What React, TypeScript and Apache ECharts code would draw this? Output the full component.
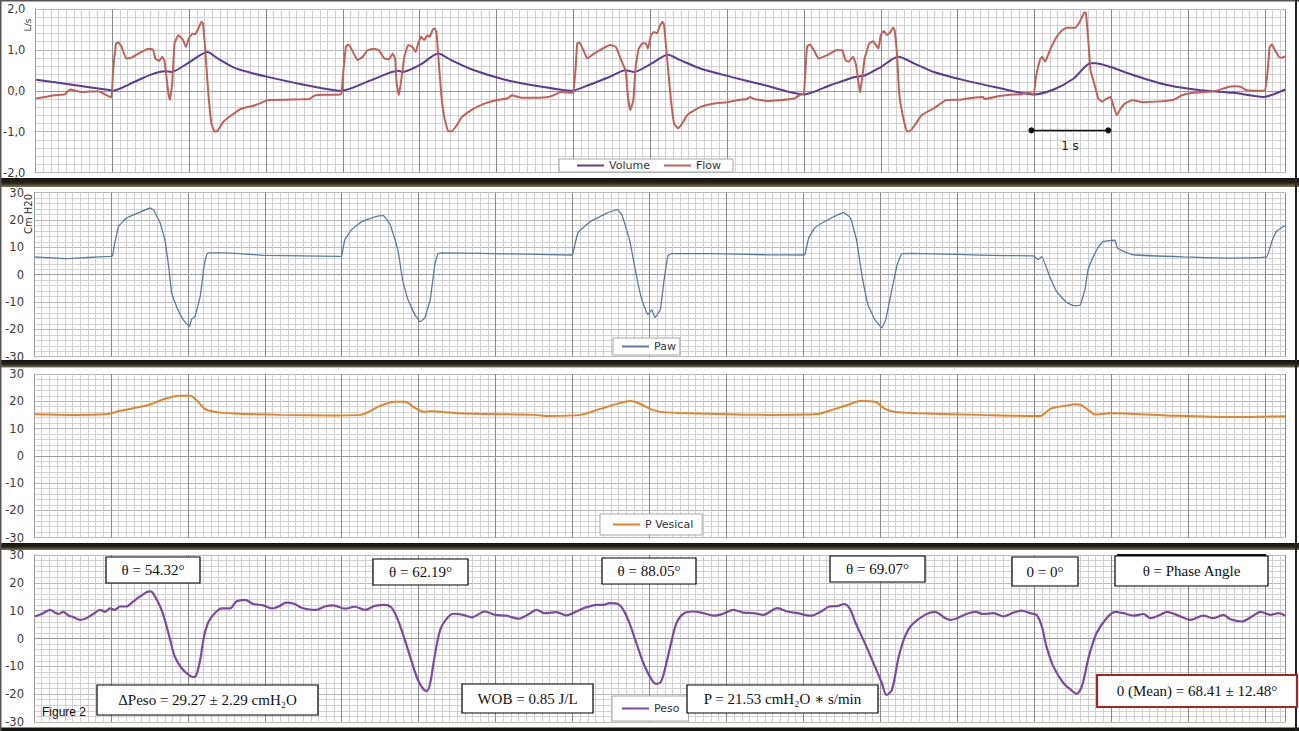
import React, { useEffect, useRef } from 'react';
import * as echarts from 'echarts';

// time in seconds
const volume: [number, number][] = [
  [0.01, 0.27], [0.5, 0.14], [0.99, 0.01], [1.0, 0.0], [1.29, 0.22], [1.51, 0.4], [1.68, 0.48], [1.77, 0.46], [1.98, 0.67], [2.24, 0.95],
  [2.37, 0.79], [2.59, 0.56], [2.8, 0.44], [3.02, 0.34], [3.46, 0.16], [3.83, 0.03], [3.98, 0.0], [4.37, 0.26], [4.72, 0.49], [4.78, 0.46],
  [5.02, 0.65], [5.24, 0.91], [5.41, 0.75], [5.68, 0.52], [6.11, 0.27], [6.55, 0.11], [6.98, 0.0], [7.2, 0.14], [7.46, 0.33], [7.68, 0.5],
  [7.79, 0.46], [8.02, 0.67], [8.23, 0.88], [8.39, 0.75], [8.66, 0.54], [9.05, 0.34], [9.48, 0.14], [10.0, -0.09], [10.35, 0.14], [10.65, 0.33],
  [10.8, 0.38], [11.0, 0.58], [11.23, 0.83], [11.43, 0.67], [11.69, 0.46], [12.08, 0.26], [12.51, 0.08], [12.99, -0.09], [13.25, 0.03], [13.51, 0.3],
  [13.73, 0.67], [13.79, 0.67], [13.99, 0.58], [14.29, 0.38], [14.73, 0.14], [15.16, 0.01], [15.59, -0.05], [15.98, -0.15], [16.26, 0.03],
];

const flow: [number, number][] = [
  [0.01, -0.19], [0.25, -0.11], [0.38, -0.09], [0.45, 0.03], [0.6, -0.03], [0.82, -0.01], [0.95, -0.13], [0.99, -0.16], [1.01, 0.46], [1.05, 1.16],
  [1.08, 1.18], [1.12, 1.08], [1.18, 0.79], [1.25, 0.81], [1.34, 0.91], [1.47, 1.03], [1.53, 1.01], [1.56, 0.79], [1.61, 0.73], [1.65, 0.83],
  [1.68, 0.73], [1.73, -0.07], [1.75, -0.22], [1.78, 0.18], [1.81, 1.16], [1.86, 1.36], [1.92, 1.24], [1.96, 1.07], [2.0, 1.3], [2.05, 1.4],
  [2.08, 1.38], [2.11, 1.48], [2.16, 1.69], [2.18, 1.65], [2.21, 0.99], [2.25, -0.07], [2.29, -0.8], [2.33, -1.0], [2.37, -0.98], [2.44, -0.77],
  [2.55, -0.6], [2.68, -0.44], [2.85, -0.36], [2.96, -0.28], [3.02, -0.23], [3.24, -0.22], [3.46, -0.21], [3.57, -0.2], [3.63, -0.12], [3.76, -0.1],
  [3.89, -0.1], [3.98, -0.08],
  [4.0, 0.34], [4.04, 1.08], [4.07, 1.13], [4.11, 1.03], [4.19, 0.75], [4.26, 0.83], [4.32, 0.99], [4.41, 1.03], [4.47, 0.99], [4.54, 0.79],
  [4.6, 0.77], [4.65, 0.91], [4.68, 0.79], [4.7, 0.18], [4.73, -0.11], [4.76, 0.26], [4.8, 0.83], [4.85, 1.12], [4.9, 1.08], [4.95, 0.95],
  [4.98, 1.16], [5.02, 1.32], [5.06, 1.24], [5.1, 1.36], [5.13, 1.32], [5.17, 1.5], [5.2, 1.52], [5.22, 1.4], [5.24, 0.91], [5.28, -0.07],
  [5.32, -0.64], [5.37, -0.99], [5.42, -0.99], [5.48, -0.85], [5.55, -0.64], [5.68, -0.46], [5.85, -0.31], [6.0, -0.23], [6.14, -0.19], [6.2, -0.11],
  [6.33, -0.17], [6.55, -0.17], [6.68, -0.15], [6.77, -0.09], [6.83, -0.03], [6.96, -0.05], [7.0, -0.05],
  [7.03, 0.58], [7.05, 1.16], [7.08, 1.18], [7.13, 0.99], [7.18, 0.79], [7.24, 0.87], [7.35, 1.0], [7.48, 1.12], [7.55, 1.08], [7.59, 0.91],
  [7.63, 0.71], [7.68, 0.5], [7.71, -0.15], [7.74, -0.48], [7.78, -0.23], [7.81, 0.58], [7.85, 1.03], [7.9, 1.16], [7.94, 1.16], [7.97, 1.03],
  [8.01, 1.36], [8.05, 1.44], [8.09, 1.4], [8.12, 1.57], [8.16, 1.69], [8.18, 1.61], [8.23, 0.58], [8.27, -0.23], [8.31, -0.8], [8.36, -0.92],
  [8.4, -0.85], [8.48, -0.6], [8.57, -0.48], [8.68, -0.38], [8.83, -0.31], [9.0, -0.28], [9.17, -0.22], [9.26, -0.2], [9.3, -0.15], [9.35, -0.2],
  [9.52, -0.25], [9.69, -0.23], [9.87, -0.19], [9.96, -0.09], [10.0, -0.07],
  [10.04, 1.08], [10.08, 1.13], [10.13, 0.99], [10.19, 0.79], [10.3, 0.87], [10.43, 1.0], [10.5, 0.99], [10.54, 0.75], [10.58, 0.71], [10.64, 0.83],
  [10.68, 0.62], [10.7, 0.34], [10.73, -0.05], [10.76, 0.34], [10.79, 0.79], [10.85, 1.16], [10.9, 1.21], [10.97, 1.03], [11.0, 1.36], [11.04, 1.46],
  [11.08, 1.36], [11.12, 1.42], [11.16, 1.55], [11.18, 1.48], [11.21, 0.91], [11.24, -0.07], [11.29, -0.64], [11.34, -0.99], [11.38, -0.99], [11.44, -0.85],
  [11.53, -0.6], [11.68, -0.44], [11.85, -0.23], [12.03, -0.22], [12.2, -0.17], [12.33, -0.15], [12.35, -0.2], [12.54, -0.13], [12.72, -0.09], [12.82, -0.09],
  [12.9, -0.05], [12.97, -0.07], [12.99, -0.11],
  [13.02, 0.34], [13.07, 0.75], [13.1, 0.83], [13.14, 0.71], [13.2, 0.99], [13.29, 1.32], [13.36, 1.48], [13.42, 1.54], [13.53, 1.54], [13.59, 1.69],
  [13.65, 1.92], [13.67, 1.9], [13.7, 1.24], [13.73, 0.5], [13.79, 0.09], [13.83, -0.19], [13.88, -0.27], [13.94, -0.19], [13.99, -0.15], [14.03, -0.38],
  [14.07, -0.6], [14.12, -0.44], [14.18, -0.31], [14.27, -0.23], [14.42, -0.28], [14.64, -0.26], [14.81, -0.22], [14.92, -0.11], [15.07, -0.05], [15.24, -0.03],
  [15.37, 0.0], [15.5, 0.08], [15.59, 0.11], [15.68, 0.1], [15.76, 0.01], [15.9, 0.0], [16.0, 0.01], [16.03, 0.4], [16.06, 1.07], [16.09, 1.13],
  [16.13, 0.99], [16.18, 0.83], [16.22, 0.81], [16.26, 0.84],
];

const paw: [number, number][] = [
  [0.01, 6.5], [0.42, 5.9], [0.7, 6.3], [0.99, 6.7], [1.02, 6.9], [1.05, 11.6], [1.1, 17.7], [1.2, 20.7], [1.38, 22.9], [1.51, 24.4],
  [1.55, 23.8], [1.64, 18.9], [1.7, 12.8], [1.75, 3.0], [1.79, -6.7], [1.86, -12.2], [1.94, -16.5], [2.02, -18.9], [2.05, -16.2], [2.09, -15.4],
  [2.16, -7.9], [2.21, 3.0], [2.25, 7.7], [2.28, 8.0], [2.5, 8.0], [2.98, 7.1], [3.5, 6.9], [3.98, 6.7],
  [4.0, 7.0], [4.04, 12.8], [4.13, 16.5], [4.26, 19.4], [4.43, 21.2], [4.54, 21.6], [4.63, 18.3], [4.73, 9.1], [4.79, -1.8], [4.86, -9.1],
  [4.95, -14.6], [5.02, -17.2], [5.08, -15.7], [5.15, -9.1], [5.21, 3.7], [5.25, 7.7], [5.3, 8.0], [5.8, 7.8], [6.4, 7.5], [6.98, 7.2],
  [7.0, 7.3], [7.07, 15.4], [7.23, 19.4], [7.46, 22.7], [7.58, 23.8], [7.64, 22.0], [7.74, 12.8], [7.84, -1.8], [7.9, -9.1], [7.98, -14.6],
  [8.03, -12.8], [8.07, -15.7], [8.14, -12.8], [8.19, -1.8], [8.24, 7.0], [8.29, 7.7], [8.8, 7.7], [9.5, 7.3], [10.0, 7.2],
  [10.02, 7.4], [10.07, 13.5], [10.15, 17.2], [10.32, 20.1], [10.52, 22.7], [10.61, 20.9], [10.69, 12.8], [10.76, 0.0], [10.84, -11.0], [10.93, -16.5],
  [11.02, -19.4], [11.07, -16.5], [11.15, -5.5], [11.22, 3.7], [11.28, 7.7], [11.4, 7.8], [12.0, 7.4], [12.6, 7.0], [12.99, 6.9],
  [13.05, 5.5], [13.1, 6.6], [13.2, -0.6], [13.29, -6.1], [13.42, -10.1], [13.51, -11.3], [13.6, -11.0], [13.66, -5.3], [13.7, 1.8], [13.77, 6.7],
  [13.84, 10.4], [13.9, 12.2], [14.05, 12.6], [14.08, 9.8], [14.16, 8.5], [14.29, 7.3], [14.94, 6.5], [15.5, 6.1], [16.02, 6.5], [16.09, 12.2],
  [16.15, 15.9], [16.26, 18.0],
];

const pVesical: [number, number][] = [
  [0.01, 15.2], [0.5, 15.0], [0.92, 15.2], [1.12, 16.5], [1.5, 18.7], [1.7, 20.9], [1.9, 22.0], [2.03, 22.0], [2.13, 19.8], [2.22, 17.2],
  [2.35, 16.1], [2.6, 15.5], [3.2, 15.0], [3.9, 14.8],
  [4.24, 15.0], [4.5, 18.3], [4.69, 19.8], [4.82, 19.8], [4.95, 17.6], [5.08, 16.1], [5.15, 16.3], [5.5, 15.6], [6.5, 15.0], [6.7, 14.6],
  [7.1, 15.0], [7.36, 17.2], [7.62, 19.4], [7.75, 20.1], [7.88, 19.0], [8.01, 17.2], [8.14, 16.1], [8.5, 15.6], [9.5, 15.0], [10.15, 15.2],
  [10.41, 17.2], [10.61, 19.0], [10.74, 20.1], [10.93, 19.8], [11.06, 17.2], [11.19, 16.1], [11.5, 15.6], [12.3, 15.0], [13.0, 14.6],
  [13.08, 14.6], [13.21, 17.2], [13.42, 18.4], [13.53, 18.9], [13.6, 18.7], [13.71, 16.6], [13.79, 15.1], [13.99, 15.6], [14.72, 14.8], [15.59, 14.2],
  [16.26, 14.5],
];

const peso: [number, number][] = [
  [0.01, 7.9], [0.1, 8.8], [0.21, 10.3], [0.27, 9.3], [0.32, 8.8], [0.38, 9.6], [0.45, 8.2], [0.51, 7.7], [0.6, 6.7], [0.68, 7.3],
  [0.77, 8.8], [0.86, 10.3], [0.92, 9.6], [0.99, 10.8], [1.05, 10.3], [1.12, 11.5], [1.2, 11.5], [1.29, 13.3], [1.38, 15.1], [1.46, 16.6],
  [1.52, 16.9], [1.56, 15.7], [1.64, 11.5], [1.7, 6.7], [1.77, -0.5], [1.83, -6.5], [1.92, -10.7], [2.01, -13.1], [2.07, -13.9], [2.11, -13.1],
  [2.16, -7.7], [2.21, 0.7], [2.27, 6.1], [2.35, 9.1], [2.44, 10.8], [2.55, 10.8], [2.63, 13.3], [2.74, 13.9], [2.85, 12.4], [2.98, 11.9],
  [3.09, 10.8], [3.18, 11.5], [3.28, 12.9], [3.39, 12.4], [3.47, 11.1], [3.56, 10.5], [3.67, 10.3], [3.78, 11.5], [3.89, 11.9], [4.04, 10.7],
  [4.17, 11.4], [4.3, 10.3], [4.43, 11.7], [4.56, 12.1], [4.65, 11.0], [4.73, 6.7], [4.82, -0.5], [4.91, -8.4], [4.99, -14.9], [5.07, -18.5],
  [5.11, -18.8], [5.15, -16.0], [5.21, -6.0], [5.28, 3.1], [5.37, 7.3], [5.45, 8.9], [5.58, 8.5], [5.69, 7.6], [5.86, 9.7], [5.99, 8.5],
  [6.14, 8.2], [6.3, 7.1], [6.45, 9.1], [6.53, 10.3], [6.64, 9.1], [6.79, 9.5], [6.92, 8.3], [7.05, 9.7], [7.14, 10.9], [7.22, 11.5],
  [7.31, 12.1], [7.4, 12.1], [7.48, 12.7], [7.59, 12.4], [7.66, 10.3], [7.74, 5.5], [7.83, -1.7], [7.92, -8.8], [8.03, -14.9], [8.09, -16.3],
  [8.15, -15.5], [8.22, -8.8], [8.29, -0.5], [8.35, 5.5], [8.44, 8.9], [8.57, 9.7], [8.7, 9.1], [8.85, 8.2], [8.96, 8.9], [9.09, 10.3],
  [9.22, 9.3], [9.35, 9.1], [9.48, 8.5], [9.66, 10.9], [9.79, 9.7], [9.92, 9.1], [10.1, 8.2], [10.23, 9.7], [10.34, 11.5], [10.45, 11.7],
  [10.53, 12.4], [10.6, 10.9], [10.68, 5.5], [10.8, -1.7], [10.93, -10.1], [11.02, -16.0], [11.08, -20.3], [11.15, -18.5], [11.24, -6.5], [11.32, 0.7],
  [11.41, 4.9], [11.58, 8.5], [11.71, 9.6], [11.84, 7.4], [11.91, 6.7], [12.0, 7.3], [12.12, 8.8], [12.23, 9.6], [12.34, 8.8], [12.47, 9.1],
  [12.6, 7.9], [12.73, 9.3], [12.84, 10.0], [12.95, 9.1], [13.03, 8.5], [13.1, 4.3], [13.16, -2.9], [13.25, -10.1], [13.38, -16.0], [13.49, -18.7],
  [13.55, -19.9], [13.62, -17.2], [13.71, -6.5], [13.81, 1.9], [13.94, 7.3], [14.05, 9.6], [14.16, 9.1], [14.29, 8.2], [14.42, 8.8], [14.51, 7.3],
  [14.64, 8.5], [14.72, 9.6], [14.85, 8.5], [15.03, 6.7], [15.2, 8.2], [15.33, 7.3], [15.46, 8.5], [15.55, 6.9], [15.7, 6.1], [15.83, 7.9],
  [15.94, 9.6], [16.07, 8.5], [16.18, 9.1], [16.26, 8.2],
];

const scaleBar: [number, number][] = [[12.96, -0.97], [13.96, -0.97]];

const seriesNames = ['Volume', 'Flow', 'Paw', 'P Vesical', 'Peso'];
const panelUnits = ['L/s', 'Cm H20'];
const thetaLabels = ['θ = 54.32°', 'θ = 62.19°', 'θ = 88.05°', 'θ = 69.07°', '0 = 0°', 'θ = Phase Angle'];
const statLabels = ['ΔPeso = 29.27 ± 2.29 cmH₂O', 'WOB = 0.85 J/L', 'P = 21.53 cmH₂O ∗ s/min', '0 (Mean) = 68.41 ± 12.48°'];
const scaleLabel = '1 s';
const figureLabel = 'Figure 2';

const X_MAX = 16.26;

export default function App() {
  const ref = useRef<HTMLDivElement>(null);
  useEffect(() => {
    document.body.style.margin = '0';
    const chart = echarts.init(ref.current!, null, { renderer: 'svg' });
    const grids = [
      { left: 34, top: 9, width: 1251, height: 163.5 },
      { left: 34, top: 192.7, width: 1251, height: 164 },
      { left: 34, top: 374, width: 1251, height: 163.5 },
      { left: 34, top: 555, width: 1251, height: 167 },
    ];
    const xAxes = grids.map((_, i) => ({
      type: 'value', gridIndex: i, min: 0, max: X_MAX, interval: 1,
      axisLabel: { show: false }, axisTick: { show: false },
      axisLine: { show: true, lineStyle: { color: '#9a9a9a', width: 1 } },
      splitLine: { show: true, lineStyle: { color: '#8a8a8a', width: 1 } },
      minorTick: { show: false, splitNumber: 10 },
      minorSplitLine: { show: true, lineStyle: { color: '#cfcfcf', width: 1 } },
    }));
    const labelStyle = { color: '#3a3a3a', fontSize: 11.5, fontFamily: '"DejaVu Sans", Verdana, sans-serif', margin: 10 };
    const yAxes = grids.map((_, i) => ({
      type: 'value', gridIndex: i,
      min: i === 0 ? -2 : -30, max: i === 0 ? 2 : 30, interval: i === 0 ? 1 : 10,
      axisLabel: {
        ...labelStyle,
        formatter: (v: number) => (i === 0 ? v.toFixed(1).replace('.', ',') : String(v)),
      },
      axisTick: { show: false },
      axisLine: { show: true, lineStyle: { color: '#9a9a9a', width: 1 } },
      splitLine: { show: true, lineStyle: { color: '#b9b9b9', width: 1 } },
      minorTick: { show: false, splitNumber: 5 },
      minorSplitLine: { show: true, lineStyle: { color: '#d2d2d2', width: 1 } },
    }));
    const lineSeries = (name: string, data: [number, number][], idx: number, color: string, width: number, smooth: number) => ({
      name, type: 'line', data, xAxisIndex: idx, yAxisIndex: idx, showSymbol: false, symbol: 'none', smooth,
      lineStyle: { color, width }, itemStyle: { color }, z: 3,
    });
    const serifFont = '15px "Liberation Serif", "DejaVu Serif", serif';
    const thetaBoxes = [
      [106, 557, 94, 26], [373, 559, 95, 26], [602, 558, 94, 26], [830, 556, 95, 26], [1012, 557, 66, 29], [1115, 556, 153, 30],
    ];
    const statBoxes = [[97, 685, 221, 30], [462, 684, 131, 29], [687, 685, 191, 28], [1097, 675, 200, 32]];
    const makeBox = (text: string, b: number[], stroke = '#000', lw = 1.2) => [
      { type: 'rect', z: 100, shape: { x: b[0], y: b[1], width: b[2], height: b[3] }, style: { fill: '#fff', stroke, lineWidth: lw } },
      {
        type: 'text', z: 101,
        style: {
          text, x: b[0] + b[2] / 2, y: b[1] + b[3] / 2, textAlign: 'center', textVerticalAlign: 'middle',
          align: 'center', verticalAlign: 'middle', font: serifFont, fill: '#111',
        },
      },
    ];
    const bandGrad = () => new echarts.graphic.LinearGradient(0, 0, 0, 1, [
      { offset: 0, color: '#141410' }, { offset: 0.55, color: '#26231a' }, { offset: 1, color: '#7a755e' },
    ]);
    const graphics: any[] = [
      { type: 'rect', z: 100, shape: { x: 0, y: 178, width: 1299, height: 9 }, style: { fill: bandGrad() } },
      { type: 'rect', z: 100, shape: { x: 0, y: 360, width: 1299, height: 7.5 }, style: { fill: bandGrad() } },
      { type: 'rect', z: 100, shape: { x: 0, y: 543, width: 1299, height: 7 }, style: { fill: bandGrad() } },
      { type: 'rect', z: 100, shape: { x: 0, y: 727.5, width: 1299, height: 3.5 }, style: { fill: '#151510' } },
      { type: 'rect', z: 100, shape: { x: 0, y: 0, width: 1299, height: 1.5 }, style: { fill: '#555' } },
      { type: 'rect', z: 100, shape: { x: 0, y: 0, width: 1.5, height: 731 }, style: { fill: '#555' } },
      { type: 'rect', z: 100, shape: { x: 1295, y: 0, width: 2, height: 731 }, style: { fill: '#222' } },
      {
        type: 'text', z: 100, x: 28, y: 25, rotation: Math.PI / 2,
        style: { text: panelUnits[0], font: '9px "DejaVu Sans", sans-serif', fill: '#333', textAlign: 'center', textVerticalAlign: 'middle', align: 'center', verticalAlign: 'middle' },
      },
      {
        type: 'text', z: 100, x: 28, y: 214, rotation: Math.PI / 2,
        style: { text: panelUnits[1], font: '10px "DejaVu Sans", sans-serif', fill: '#333', textAlign: 'center', textVerticalAlign: 'middle', align: 'center', verticalAlign: 'middle' },
      },
      {
        type: 'text', z: 100,
        style: { text: scaleLabel, x: 1070, y: 146, font: '12px "DejaVu Sans", sans-serif', fill: '#222', textAlign: 'center', textVerticalAlign: 'middle', align: 'center', verticalAlign: 'middle' },
      },
      {
        type: 'text', z: 100,
        style: { text: figureLabel, x: 42, y: 712, font: '12px "Liberation Sans", Arial, sans-serif', fill: '#111', textAlign: 'left', textVerticalAlign: 'middle', align: 'left', verticalAlign: 'middle' },
      },
      { type: 'rect', z: 99, shape: { x: 1117, y: 554, width: 149, height: 3 }, style: { fill: '#111' } },
    ];
    thetaLabels.forEach((t, i) => graphics.push(...makeBox(t, thetaBoxes[i])));
    statLabels.forEach((t, i) => graphics.push(...(i === 3 ? makeBox(t, statBoxes[i], '#a32626', 2.2) : makeBox(t, statBoxes[i]))));

    const legendBase = {
      backgroundColor: '#fff', borderColor: '#a8a8a8', borderWidth: 1, borderRadius: 0,
      icon: 'rect', itemWidth: 27, itemHeight: 2, orient: 'horizontal',
      textStyle: { fontSize: 11, color: '#333', fontFamily: '"DejaVu Sans", Verdana, sans-serif' },
    };
    const option: any = {
      animation: false,
      backgroundColor: '#ffffff',
      grid: grids,
      xAxis: xAxes,
      yAxis: yAxes,
      legend: [
        { ...legendBase, data: [seriesNames[0], seriesNames[1]], left: 559, top: 159, padding: [1, 12, 1, 18], itemGap: 14 },
        { ...legendBase, data: [seriesNames[2]], left: 613, top: 338, padding: [3, 4, 3, 9] },
        { ...legendBase, data: [seriesNames[3]], left: 600, top: 514, padding: [5, 9, 5, 13] },
        { ...legendBase, data: [seriesNames[4]], left: 612, top: 696, padding: [7, 9, 7, 10] },
      ],
      series: [
        lineSeries(seriesNames[0], volume, 0, '#5b3c8e', 2, 0.25),
        lineSeries(seriesNames[1], flow, 0, '#c0625b', 2, 0.1),
        {
          name: 'scale', type: 'line', data: scaleBar, xAxisIndex: 0, yAxisIndex: 0, symbol: 'circle', symbolSize: 6, showSymbol: true,
          lineStyle: { color: '#111', width: 1.5 }, itemStyle: { color: '#111' }, z: 4,
        },
        lineSeries(seriesNames[2], paw, 1, '#5d7b99', 1.3, 0.1),
        lineSeries(seriesNames[3], pVesical, 2, '#e0862c', 2, 0.3),
        lineSeries(seriesNames[4], peso, 3, '#7a4c9b', 2.2, 0.3),
      ],
      graphic: { elements: graphics },
    };
    chart.setOption(option);
    return () => chart.dispose();
  }, []);
  return <div ref={ref} style={{ width: 1299, height: 731, position: 'absolute', left: 0, top: 0, background: '#fff' }} />;
}
